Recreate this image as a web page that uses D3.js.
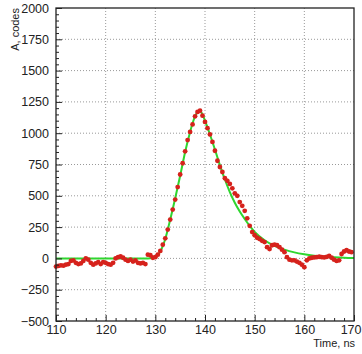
<!DOCTYPE html>
<html>
<head>
<meta charset="utf-8">
<script src="https://cdn.jsdelivr.net/npm/d3@7"></script>
<style>
  body { margin: 0; background: #fff; }
  svg { display: block; font-family: "Liberation Sans", Arial, sans-serif; }
</style>
</head>
<body>
<svg id="chart" width="362" height="354"></svg>
<script>
// measured samples, 0.5 ns step
const sampleTime = d3.range(110, 170, 0.5);
const sampleAmp = [
  -65, -60, -55, -58, -50, -45, -20, -15, -35, -45,
  -40, -20, 0, -10, -35, -50, -40, -30, -45, -30,
  -35, -45, -50, -35, 0, 10, 15, 5, -10, -20,
  -10, -25, -15, -35, -40, -35, -45, 30, 25, 5,
  10, 30, 60, 110, 160, 230, 310, 390, 470, 570,
  670, 760, 855, 945, 1010, 1070, 1135, 1170, 1180, 1140,
  1090, 1040, 990, 930, 860, 780, 730, 690, 640, 620,
  595, 560, 520, 500, 450, 420, 380, 320, 260, 210,
  185, 165, 155, 140, 130, 90, 75, 105, 110, 105,
  90, 70, 50, 10, -10, -15, -15, -25, -35, -50,
  -70, -15, 0, 5, 8, 10, 13, 10, 8, 12,
  20, 5, -10, -20, -15, 35, 55, 65, 55, 50
];

// fit curve
const fitTime = [110, 128, 129, 130, 131, 132, 133, 134, 135, 136, 137, 137.5, 138, 138.5, 139, 139.5, 140,
  141, 142, 143, 144, 145, 146, 147, 148, 149, 150, 152, 154, 156, 158, 160, 162, 164, 166, 168, 170];
const fitAmp = [0, 0, 2, 12, 55, 155, 310, 480, 660, 850, 1010, 1080, 1135, 1168, 1175, 1150, 1100,
  990, 870, 745, 630, 530, 445, 375, 315, 260, 212, 145, 100, 70, 48, 33, 22, 14, 9, 5, 3];

const yMajor = d3.range(-500, 2001, 250);
const yMinor = d3.range(-500, 2001, 50).filter(v => v % 250 !== 0);
const xMajor = d3.range(110, 171, 10);
const xMinor = d3.range(110, 171, 2).filter(v => v % 10 !== 0);

const padL = 56, padR = 354, padT = 8, padB = 321;

const svg = d3.select('#chart');

const x = d3.scaleLinear().domain([110, 170]).range([padL, padR]);
const y = d3.scaleLinear().domain([-500, 2000]).range([padB, padT]);

// grid
svg.append('g').selectAll('line')
  .data(xMajor.slice(1, -1))
  .enter().append('line')
  .attr('x1', d => x(d)).attr('x2', d => x(d))
  .attr('y1', padT).attr('y2', padB)
  .attr('stroke', '#999').attr('stroke-dasharray', '1,2');

svg.append('g').selectAll('line')
  .data(yMajor.slice(1, -1))
  .enter().append('line')
  .attr('x1', padL).attr('x2', padR)
  .attr('y1', d => y(d)).attr('y2', d => y(d))
  .attr('stroke', '#999').attr('stroke-dasharray', '1,2');

// fit
const line = d3.line()
  .x((d, i) => x(fitTime[i]))
  .y(d => y(d))
  .curve(d3.curveMonotoneX);

svg.append('path')
  .datum(fitAmp)
  .attr('d', line)
  .attr('fill', 'none')
  .attr('stroke', '#2fd62f')
  .attr('stroke-width', 2);

// points
svg.selectAll('.pt')
  .data(sampleAmp)
  .enter().append('circle')
  .attr('class', 'pt')
  .attr('cx', (d, i) => x(sampleTime[i]))
  .attr('cy', d => y(d))
  .attr('r', 2.4)
  .attr('fill', '#d6221c');

// axes
svg.append('g')
  .attr('transform', 'translate(' + padL + ',0)')
  .call(d3.axisLeft(y).tickValues(yMajor).tickSize(-6).tickPadding(7).tickFormat(d3.format('d')));
svg.append('g')
  .attr('transform', 'translate(' + padL + ',0)')
  .call(d3.axisLeft(y).tickValues(yMinor).tickSize(-3).tickFormat(''));

const xAx = svg.append('g')
  .attr('transform', 'translate(0,' + padB + ')')
  .call(d3.axisBottom(x).tickValues(xMajor).tickSize(-6).tickPadding(4).tickFormat(d3.format('d')));
svg.append('g')
  .attr('transform', 'translate(0,' + padB + ')')
  .call(d3.axisBottom(x).tickValues(xMinor).tickSize(-3).tickFormat(''));

svg.selectAll('.domain').remove();
svg.selectAll('.tick line').attr('stroke', '#222');
svg.selectAll('.tick text').attr('font-size', 12.5).attr('fill', '#222').attr('font-family', '"Liberation Sans", Arial, sans-serif');

// last x label sits at the window edge
xAx.selectAll('.tick text').filter(d => d === 170)
  .attr('text-anchor', 'end').attr('x', 7);

// frame
svg.append('rect')
  .attr('x', padL).attr('y', padT)
  .attr('width', padR - padL).attr('height', padB - padT)
  .attr('fill', 'none').attr('stroke', '#222').attr('stroke-width', 1.3);

// titles
svg.append('text')
  .attr('x', padR + 1).attr('y', 347)
  .attr('text-anchor', 'end')
  .attr('font-size', 11)
  .attr('fill', '#222')
  .text('Time, ns');

svg.append('text')
  .attr('transform', 'translate(19,' + padT + ') rotate(-90)')
  .attr('text-anchor', 'end')
  .attr('font-size', 11)
  .attr('fill', '#222')
  .text('A, codes');
</script>
</body>
</html>
